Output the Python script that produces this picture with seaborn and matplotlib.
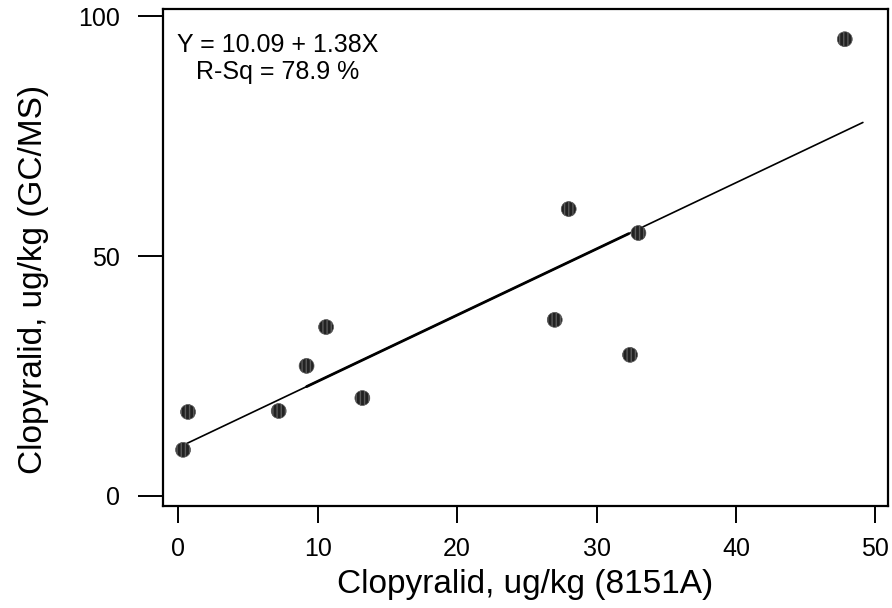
import pandas as pd
import matplotlib.pyplot as plt
import seaborn as sns

# Valores
x_8151a = [0.34, 0.7, 7.2, 9.2, 10.6, 13.2, 27.0, 28.0, 32.4, 33.0, 47.8]
y_gcms = [9.6, 17.5, 17.7, 27.1, 35.2, 20.4, 36.7, 59.8, 29.4, 54.8, 95.2]

intercept = 10.09
slope = 1.38
fit_x = [0.34, 49.1]
fit_x_overlap = [9.2, 32.3]

x_ticks = [0, 10, 20, 30, 40, 50]
y_ticks = [0, 50, 100]

df = pd.DataFrame({"x": x_8151a, "y": y_gcms})
df_fit = pd.DataFrame({"x": fit_x, "y": [intercept + slope * v for v in fit_x]})
df_fit2 = pd.DataFrame({"x": fit_x_overlap, "y": [intercept + slope * v for v in fit_x_overlap]})

sns.set_style("ticks")
plt.rcParams['font.family'] = ['Liberation Sans', 'DejaVu Sans']
plt.rcParams['text.color'] = 'black'
plt.rcParams['axes.labelcolor'] = 'black'

fig = plt.figure(figsize=(8.92, 6.08), dpi=100)
ax = fig.add_axes([0.1827, 0.1678, 0.8128, 0.8174])

sns.lineplot(data=df_fit, x="x", y="y", color="black", linewidth=1.2, ax=ax)
sns.lineplot(data=df_fit2, x="x", y="y", color="black", linewidth=2.0, ax=ax)
sns.scatterplot(data=df, x="x", y="y", color="#222222", s=115, edgecolor="#5a5a5a",
                linewidth=0.5, hatch="||||", ax=ax, zorder=3)

ax.set_xlim(-1.1, 50.9)
ax.set_ylim(-2.1, 101.5)
ax.set_xticks(x_ticks)
ax.set_yticks(y_ticks)

for side in ax.spines.values():
    side.set_linewidth(1.6)
    side.set_color("black")

ax.tick_params(axis="y", length=18, width=1.4, pad=13, labelsize=18, colors="black")
ax.tick_params(axis="x", length=12, width=1.4, pad=10, labelsize=18, colors="black")

ax.set_xlabel("Clopyralid, ug/kg (8151A)", fontsize=24, labelpad=6)
ax.set_ylabel("Clopyralid, ug/kg (GC/MS)", fontsize=24, labelpad=21)
ax.yaxis.label.set_y(0.455)

ax.text(0.1586, 0.90, "Y = 10.09 + 1.38X\nR-Sq = 78.9 %", transform=ax.transAxes,
        ha="center", va="center", multialignment="center", fontsize=18, linespacing=1.15)

fig.savefig("out.png", dpi=100)
